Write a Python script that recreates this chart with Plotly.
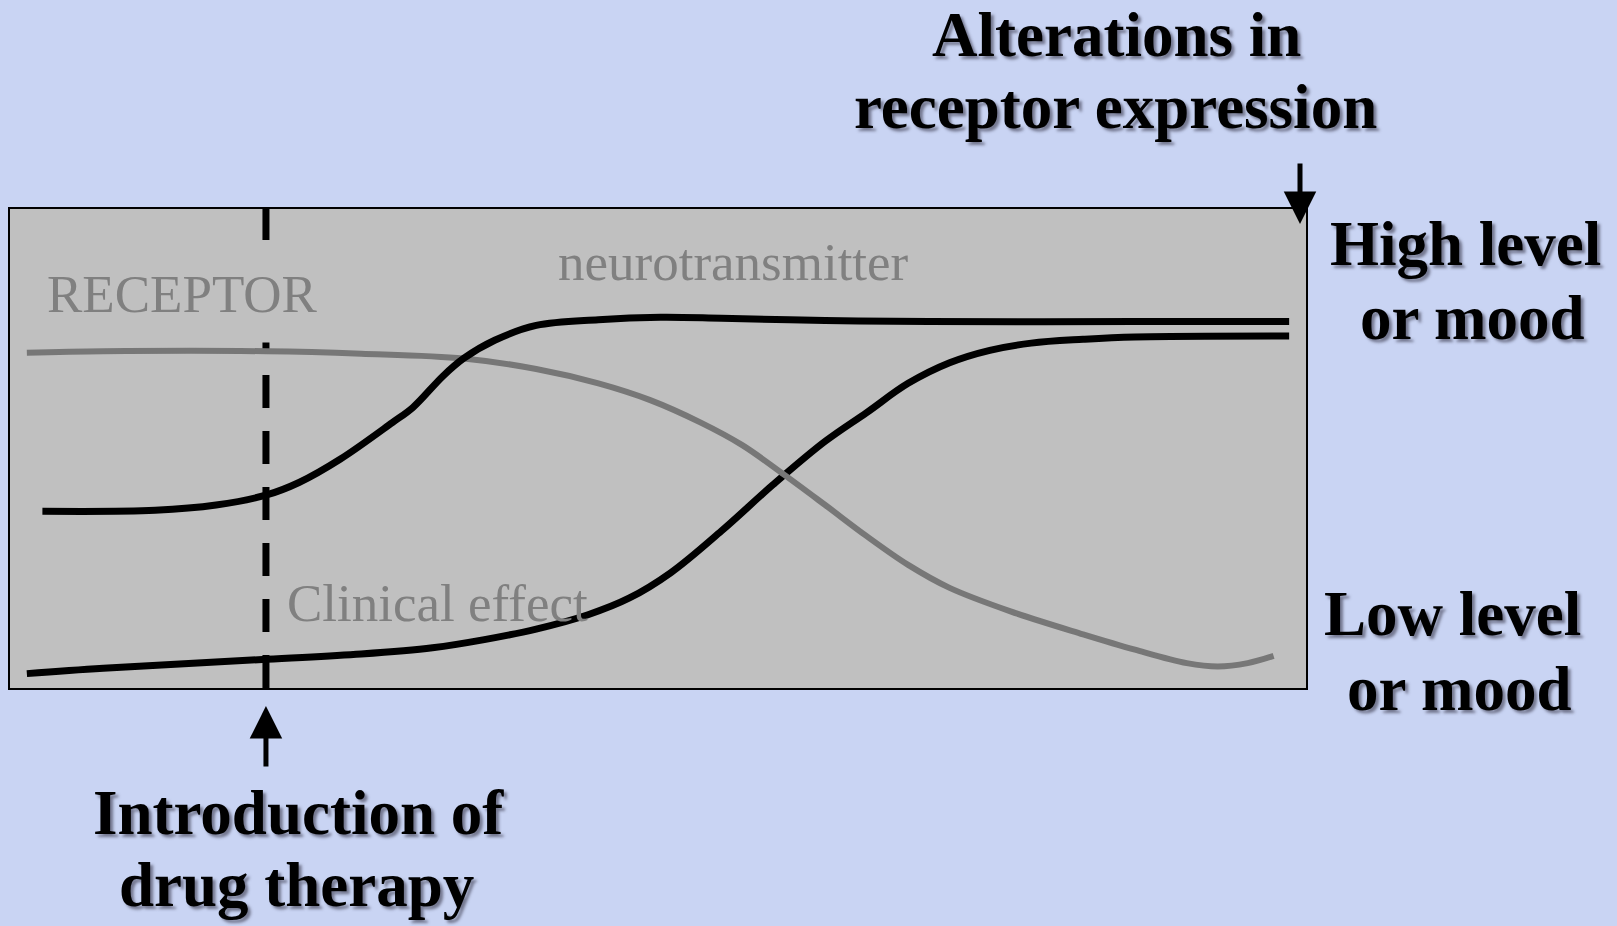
import plotly.graph_objects as go

# ---- data (time units 0-100, level units 0-100) ----
nt_time = [2.5, 11.2, 15.9, 19.8, 22.3, 25.5, 29.5, 31.1, 33.4, 35.0, 37.4, 40.6, 45.4, 50.2, 54.9, 62.9, 70.9, 86.8, 98.7]
nt_level = [36.9, 37.1, 38.2, 40.3, 42.9, 47.8, 55.4, 58.6, 65.1, 68.8, 72.6, 75.7, 76.9, 77.4, 77.2, 76.7, 76.5, 76.5, 76.5]

clin_time = [1.3, 7.2, 19.8, 27.1, 32.6, 36.6, 40.6, 44.6, 47.8, 51.0, 54.9, 58.9, 62.9, 66.1, 69.3, 72.5, 75.6, 78.8, 82.8, 86.8, 98.7]
clin_level = [3.0, 4.1, 6.0, 7.1, 8.4, 10.1, 12.3, 15.3, 18.8, 24.1, 32.8, 42.5, 51.5, 57.5, 63.6, 67.9, 70.5, 72.0, 72.8, 73.3, 73.5]

rec_time = [1.3, 7.2, 19.8, 27.1, 35.0, 40.6, 45.4, 49.4, 53.3, 56.5, 59.7, 62.9, 66.1, 69.3, 72.5, 77.2, 82.8, 86.8, 90.8, 93.2, 95.5, 97.5]
rec_level = [70.0, 70.3, 70.3, 69.8, 68.8, 66.6, 63.6, 60.1, 55.4, 50.7, 44.6, 38.2, 31.7, 25.7, 20.9, 16.0, 11.2, 8.0, 5.2, 4.5, 5.2, 6.7]

drug_start = 19.75
series_labels = ["neurotransmitter", "Clinical effect", "RECEPTOR"]

# ---- layout geometry (pixels) ----
W, H = 1617, 926
L, T, R, B = 10, 209, 1306, 688
BG = "#c9d4f3"


def pxx(p):
    return (p - L) / (R - L)


def pxy(p):
    return (B - p) / (B - T)


fig = go.Figure()

fig.add_trace(go.Scatter(x=[drug_start, drug_start], y=[0, 100], mode="lines",
                         line=dict(color="black", width=7, dash="33px,23px"),
                         hoverinfo="skip", showlegend=False))
fig.add_trace(go.Scatter(x=clin_time, y=clin_level, mode="lines", name=series_labels[1],
                         line=dict(color="black", width=7, shape="spline", smoothing=1.0),
                         showlegend=False))
fig.add_trace(go.Scatter(x=rec_time, y=rec_level, mode="lines", name=series_labels[2],
                         line=dict(color="#777777", width=6, shape="spline", smoothing=1.0),
                         showlegend=False))
fig.add_trace(go.Scatter(x=nt_time, y=nt_level, mode="lines", name=series_labels[0],
                         line=dict(color="black", width=7, shape="spline", smoothing=1.0),
                         showlegend=False))

SERIF = "Liberation Serif, Times New Roman, serif"
bold_font = dict(family=SERIF, size=63, color="black", weight="bold",
                 shadow="3px 3px 3px rgba(70,70,90,0.65)")
gray_font = dict(family=SERIF, size=53, color="#808080")

ann = []


def bold_line(text, cx, baseline):
    ann.append(dict(text=text, xref="paper", yref="paper", x=pxx(cx), y=pxy(baseline + 0.216 * 63 + 1),
                    xanchor="center", yanchor="bottom", showarrow=False, font=bold_font))


bold_line("Alterations in", 1116, 57)
bold_line("receptor expression", 1115, 129)
bold_line("High level", 1465, 266)
bold_line("or mood", 1472, 340)
bold_line("Low level", 1453, 636)
bold_line("or mood", 1459, 711)
bold_line("Introduction of", 298, 835)
bold_line("drug therapy", 296, 907)

# gray labels inside the box
ann.append(dict(text=series_labels[2], xref="paper", yref="paper", x=pxx(46), y=pxy(294),
                xanchor="left", yanchor="middle", showarrow=False, font=gray_font,
                bgcolor="#c0c0c0", height=96, borderpad=0, valign="middle"))
ann.append(dict(text=series_labels[0], xref="paper", yref="paper", x=pxx(733), y=pxy(281 + 0.216 * 53 + 1),
                xanchor="center", yanchor="bottom", showarrow=False, font=gray_font))
ann.append(dict(text=series_labels[1], xref="paper", yref="paper", x=pxx(285), y=pxy(622 + 0.216 * 53 + 1),
                xanchor="left", yanchor="bottom", showarrow=False, font=gray_font))

# arrows
ann.append(dict(text="", xref="x", yref="paper", x=drug_start, y=pxy(706), ax=0, ay=62,
                showarrow=True, arrowhead=2, arrowsize=1.3, arrowwidth=5, arrowcolor="black", standoff=0))
ann.append(dict(text="", xref="paper", yref="paper", x=pxx(1300), y=pxy(224), ax=0, ay=-62,
                showarrow=True, arrowhead=2, arrowsize=1.3, arrowwidth=5, arrowcolor="black", standoff=0))

fig.update_layout(
    width=W, height=H, autosize=False,
    margin=dict(l=L, r=W - R, t=T, b=H - B, pad=0),
    paper_bgcolor=BG,
    plot_bgcolor="#c0c0c0",
    xaxis=dict(range=[0, 100], showgrid=False, zeroline=False, showticklabels=False, ticks="",
               showline=True, mirror=True, linecolor="black", linewidth=2, fixedrange=True),
    yaxis=dict(range=[0, 100], showgrid=False, zeroline=False, showticklabels=False, ticks="",
               showline=True, mirror=True, linecolor="black", linewidth=2, fixedrange=True),
    annotations=ann,
    showlegend=False,
)

fig.write_html("out.html", config={"displayModeBar": False},
               post_script="document.body.style.margin='0';document.body.style.background='" + BG + "';")
